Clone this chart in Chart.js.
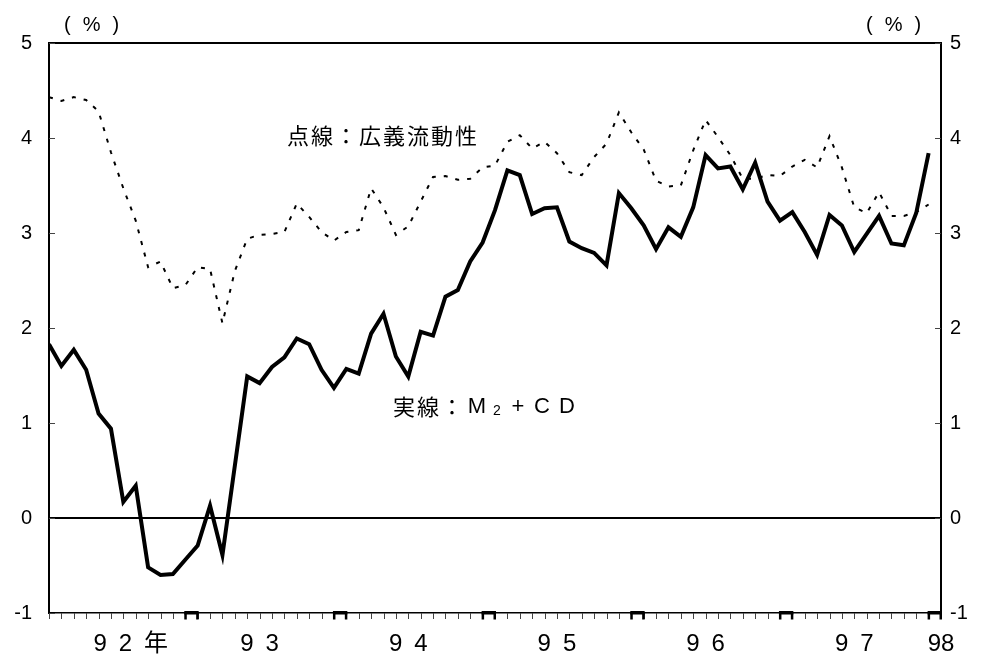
<!DOCTYPE html>
<html><head><meta charset="utf-8">
<script src="https://cdn.jsdelivr.net/npm/chart.js@4.4.1/dist/chart.umd.min.js"></script>
<style>html,body{margin:0;padding:0;background:#fff;} canvas{display:block}</style>
</head><body>
<canvas id="c" width="981" height="656"></canvas>
<script>
// Monthly categories: Jan 1992 .. Dec 1997
const months = [];
for (let yr = 1992; yr <= 1997; yr++) for (let m = 1; m <= 12; m++) months.push(yr + '-' + String(m).padStart(2, '0'));

// 実線：M2+CD (前年比, %)
const m2cd = [
  1.83, 1.60, 1.77, 1.56, 1.10, 0.94, 0.17, 0.34, -0.52, -0.60,
  -0.59, -0.44, -0.29, 0.13, -0.39, 0.55, 1.49, 1.42, 1.59, 1.69,
  1.89, 1.83, 1.56, 1.37, 1.57, 1.52, 1.94, 2.15, 1.70, 1.49,
  1.96, 1.92, 2.33, 2.40, 2.70, 2.90, 3.24, 3.66, 3.61, 3.20,
  3.26, 3.27, 2.91, 2.84, 2.79, 2.66, 3.42, 3.26, 3.08, 2.83,
  3.06, 2.96, 3.27, 3.82, 3.68, 3.70, 3.46, 3.74, 3.33, 3.13,
  3.22, 3.01, 2.77, 3.19, 3.08, 2.80, 2.99, 3.18, 2.89, 2.87,
  3.21, 3.84
];

// 点線：広義流動性 (前年比, %)
const broadLiquidity = [
  4.43, 4.39, 4.43, 4.40, 4.28, 3.85, 3.47, 3.13, 2.64, 2.70,
  2.42, 2.45, 2.64, 2.62, 2.05, 2.60, 2.94, 2.98, 2.99, 3.01,
  3.31, 3.17, 3.01, 2.92, 3.01, 3.03, 3.47, 3.27, 2.98, 3.07,
  3.33, 3.59, 3.60, 3.56, 3.57, 3.69, 3.71, 3.96, 4.03, 3.89,
  3.96, 3.84, 3.64, 3.61, 3.80, 3.94, 4.27, 4.06, 3.88, 3.55,
  3.49, 3.50, 3.87, 4.19, 4.01, 3.82, 3.57, 3.57, 3.61, 3.60,
  3.70, 3.77, 3.69, 4.02, 3.69, 3.27, 3.21, 3.43, 3.18, 3.18,
  3.22, 3.30
];

// x-axis year labels and the month index each one sits at
const yearLabels = ['9\u20022\u2002年', '9\u20023', '9\u20024', '9\u20025', '9\u20026', '9\u20027', '98'];
const yearLabelAt = [6.6, 17, 29, 41, 53, 65, 72];
const yTickValues = [-1, 0, 1, 2, 3, 4, 5];
const unitLabel = '(%)';
const dottedLabel = '点線：広義流動性';
const solidLabelHead = '実線：';
const solidLabelTail = ['M', '2', '+', 'C', 'D'];

const LATIN = '"Liberation Sans", Arial, "Noto Sans CJK JP", sans-serif';
const CJK = '"Noto Sans CJK JP", "Liberation Sans", sans-serif';

const decor = {
  id: 'decor',
  afterDraw(chart) {
    const { ctx, chartArea: a, scales: { x, y } } = chart;
    ctx.save();
    // top frame line
    ctx.strokeStyle = '#000';
    ctx.lineWidth = 2;
    ctx.beginPath();
    ctx.moveTo(a.left - 1, a.top);
    ctx.lineTo(a.right + 1, a.top);
    ctx.stroke();
    // inner y tick marks on both sides
    ctx.lineWidth = 1;
    ctx.strokeStyle = '#444';
    ctx.beginPath();
    yTickValues.forEach(v => {
      const py = Math.round(y.getPixelForValue(v)) + 0.5;
      ctx.moveTo(a.left, py); ctx.lineTo(a.left + 6, py);
      ctx.moveTo(a.right - 6, py); ctx.lineTo(a.right, py);
    });
    // monthly tick marks below the x axis
    for (let k = 0; k <= months.length; k++) {
      const px = Math.round(x.getPixelForValue(k)) + 0.5;
      ctx.moveTo(px, a.bottom); ctx.lineTo(px, a.bottom + 6);
    }
    ctx.stroke();
    // year-end markers (December)
    ctx.fillStyle = '#000';
    months.forEach((m, k) => {
      if (!m.endsWith('-12')) return;
      const x1 = x.getPixelForValue(k), x2 = x.getPixelForValue(k + 1);
      ctx.fillRect(x1 - 1, a.bottom - 2, x2 - x1 + 2, 3.5);
      ctx.fillRect(x1 - 1, a.bottom, 2.5, 6.5);
      ctx.fillRect(x2 - 1.5, a.bottom, 2.5, 6.5);
    });
    // unit labels
    ctx.fillStyle = '#000';
    ctx.textBaseline = 'middle';
    ctx.textAlign = 'left';
    ctx.font = '20px ' + LATIN;
    ctx.letterSpacing = '12px';
    ctx.fillText(unitLabel, 64, 25);
    ctx.fillText(unitLabel, 866, 25);
    // series annotations
    ctx.font = '22px ' + CJK;
    ctx.letterSpacing = '2px';
    ctx.fillText(dottedLabel, 287, 136);
    ctx.fillText(solidLabelHead, 393, 407);
    ctx.letterSpacing = '0px';
    ctx.textAlign = 'center';
    const cells = [477, 497, 518, 542, 567];
    solidLabelTail.forEach((t, i) => {
      if (t === '2') { ctx.font = '14px ' + LATIN; ctx.fillText(t, cells[i], 411); }
      else { ctx.font = '22px ' + LATIN; ctx.fillText(t, cells[i], 407); }
    });
    ctx.restore();
  }
};

new Chart(document.getElementById('c'), {
  type: 'line',
  data: {
    datasets: [
      {
        label: 'M2+CD',
        data: m2cd.map((v, i) => ({ x: i, y: v })),
        borderColor: '#000', borderWidth: 4, pointRadius: 0, tension: 0,
        borderJoinStyle: 'miter', yAxisID: 'y'
      },
      {
        label: '広義流動性',
        data: broadLiquidity.map((v, i) => ({ x: i, y: v })),
        borderColor: '#000', borderWidth: 2, borderDash: [4, 8], pointRadius: 0, tension: 0,
        yAxisID: 'y'
      }
    ]
  },
  options: {
    responsive: false, animation: false, devicePixelRatio: 1,
    layout: { padding: { top: 43, left: 0, right: 0, bottom: 0 } },
    plugins: { legend: { display: false }, tooltip: { enabled: false } },
    scales: {
      x: {
        type: 'linear', min: 0, max: months.length, position: 'bottom',
        grid: { display: false, drawTicks: false },
        border: { display: true, color: '#000', width: 1.5 },
        afterBuildTicks: s => { s.ticks = yearLabelAt.map(v => ({ value: v })); },
        afterFit: s => { s.height = 43; },
        ticks: {
          autoSkip: false, maxRotation: 0, padding: 17, color: '#000',
          font: { size: 24, family: LATIN },
          callback: (v, i) => yearLabels[i]
        }
      },
      y: {
        min: -1, max: 5, position: 'left',
        afterFit: s => { s.width = 49; },
        ticks: { stepSize: 1, padding: 17, color: '#000', font: { size: 20, family: LATIN } },
        grid: {
          drawTicks: false, lineWidth: 2,
          color: c => (c.tick && c.tick.value === 0) ? '#000' : 'rgba(0,0,0,0)'
        },
        border: { display: true, color: '#000', width: 2 }
      },
      y2: {
        min: -1, max: 5, position: 'right',
        afterFit: s => { s.width = 40; },
        ticks: { stepSize: 1, padding: 9, color: '#000', font: { size: 20, family: LATIN } },
        grid: { display: false, drawTicks: false },
        border: { display: true, color: '#000', width: 2 }
      }
    }
  },
  plugins: [decor]
});
</script>
</body></html>
